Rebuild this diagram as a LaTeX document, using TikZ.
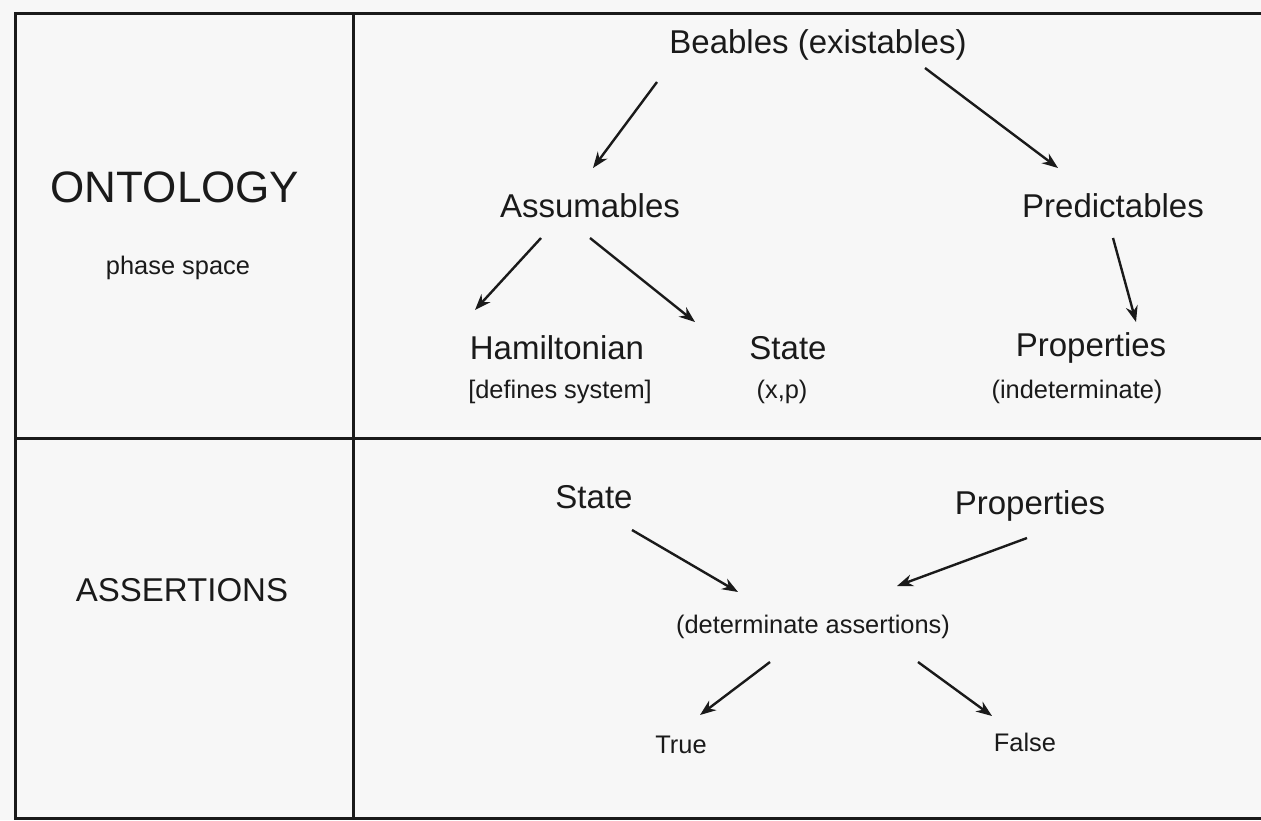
\documentclass[tikz,border=0pt]{standalone}
\usepackage{fontspec}
\setmainfont{Liberation Sans}
\usetikzlibrary{arrows.meta}
\definecolor{bg}{HTML}{F7F7F7}
\definecolor{ink}{HTML}{1A1A1A}
\tikzset{
  big/.style={font=\fontsize{16.5}{19}\selectfont, text=ink, inner sep=0pt},
  huge/.style={font=\fontsize{22}{25}\selectfont, text=ink, inner sep=0pt},
  small/.style={font=\fontsize{12.7}{15}\selectfont, text=ink, inner sep=0pt},
  frame/.style={draw=ink, line width=1.5pt},
  arr/.style={draw=ink, line width=1.2pt, -{Stealth[length=8pt,width=6pt]}}
}
\begin{document}
\begin{tikzpicture}[x=0.5pt,y=-0.5pt]
\useasboundingbox (0,0) rectangle (1261,820);
\fill[bg] (0,0) rectangle (1261,820);
% frame
\draw[frame] (1261,13) -- (15,13) -- (15,818) -- (1261,818);
\draw[frame] (353,13) -- (353,818);
\draw[frame] (15,438) -- (1261,438);
% left column
\node[huge] (onto) at (175,187) {ONTOLOGY};
\node[small] (phase) at (178,268) {phase space};
\node[big] (assert) at (182,590) {ASSERTIONS};
% ontology
\node[big] (beables) at (818,45) {Beables (existables)};
\node[big] (assum) at (590,206) {Assumables};
\node[big] (pred) at (1113,206) {Predictables};
\node[big] (ham) at (557,348) {Hamiltonian};
\node[small] (hamsub) at (560,392) {[defines system]};
\node[big] (state) at (788,348) {State};
\node[small] (statesub) at (782,392) {(x,p)};
\node[big] (prop) at (1091,348) {Properties};
\node[small] (propsub) at (1077,392) {(indeterminate)};
% assertions
\node[big] (state2) at (594,497) {State};
\node[big] (prop2) at (1030,506) {Properties};
\node[small] (det) at (813,627) {(determinate assertions)};
\node[small] (true) at (681,745) {True};
\node[small] (false) at (1025,742) {False};
% arrow end points
\coordinate (b1s) at (657,82);   \coordinate (b1e) at (593,168);
\coordinate (b2s) at (925,68);   \coordinate (b2e) at (1058,168);
\coordinate (a1s) at (541,238);  \coordinate (a1e) at (475,310);
\coordinate (a2s) at (590,238);  \coordinate (a2e) at (695,322);
\coordinate (p1s) at (1113,238); \coordinate (p1e) at (1136,322);
\coordinate (s1s) at (632,530);  \coordinate (s1e) at (738,592);
\coordinate (q1s) at (1027,538); \coordinate (q1e) at (897,586);
\coordinate (d1s) at (770,662);  \coordinate (d1e) at (700,715);
\coordinate (d2s) at (918,662);  \coordinate (d2e) at (992,716);
\draw[arr] (b1s) -- (b1e);
\draw[arr] (b2s) -- (b2e);
\draw[arr] (a1s) -- (a1e);
\draw[arr] (a2s) -- (a2e);
\draw[arr] (p1s) -- (p1e);
\draw[arr] (s1s) -- (s1e);
\draw[arr] (q1s) -- (q1e);
\draw[arr] (d1s) -- (d1e);
\draw[arr] (d2s) -- (d2e);
\end{tikzpicture}
\end{document}
